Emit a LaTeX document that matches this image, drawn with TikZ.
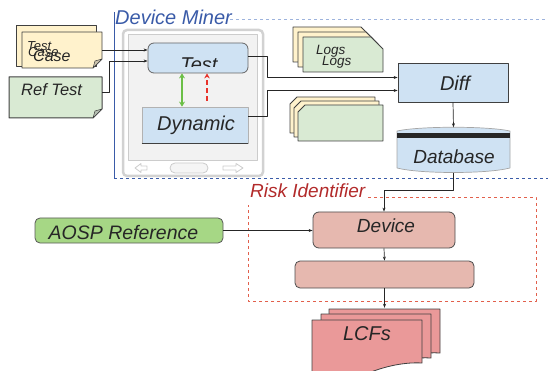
\documentclass[tikz,border=0pt]{standalone}
\usepackage{fontspec}
\setmainfont{Liberation Sans}
\usetikzlibrary{arrows.meta,calc}
\definecolor{lblue}{HTML}{CFE2F3}
\definecolor{pinkb}{HTML}{E6B8AF}
\definecolor{lcfc}{HTML}{EA9999}
\definecolor{gpaper}{HTML}{D9EAD3}
\definecolor{ypaper}{HTML}{FFF2CC}
\definecolor{aospg}{HTML}{A6D785}
\definecolor{dmblue}{HTML}{3A5BA8}
\definecolor{dmlight}{HTML}{9DB3DD}
\definecolor{riskred}{HTML}{B22A2A}
\definecolor{riskline}{HTML}{E2604C}
\definecolor{edge}{HTML}{404040}
\definecolor{arrgreen}{HTML}{6BBF47}
\definecolor{arrred}{HTML}{E8322B}
\newcommand{\fsz}[1]{\fontsize{#1}{#1}\selectfont}
\begin{document}
\begin{tikzpicture}[x=1pt,y=-1pt,line join=round,
  conn/.style={draw=black!85,line width=0.7pt,-{Stealth[length=4pt,width=3pt]}},
  paper/.style={draw=edge,line width=0.8pt},
  box/.style={draw=edge,line width=0.8pt,inner sep=0pt},
  ghost/.style={draw=none,inner sep=0pt},
  lbl/.style={font=\itshape,text=black!85,inner sep=0pt}]
\useasboundingbox (0,0) rectangle (548,371);

% ---------- Device Miner frame ----------
\draw[dmblue,line width=0.8pt] (114,12) -- (114,178);
\draw[dmlight,line width=0.8pt,dashed] (230,19) -- (548,19);
\draw[dmblue,line width=0.8pt,dashed] (114,178) -- (548,178);
\node[lbl,text=dmblue,anchor=base west,font=\itshape\fsz{20}] (dmlabel) at (115,25) {Device Miner};

% ---------- phone ----------
\node[draw=gray!35,line width=2.5pt,fill=white,rounded corners=4pt,
      minimum width=140pt,minimum height=146pt,inner sep=0pt] (phone) at (193,103) {};
\node[draw=gray!40,line width=0.6pt,fill=gray!10,minimum width=129pt,minimum height=126pt,inner sep=0pt]
      (screen) at (192.5,97) {};
\draw[gray!40,fill=white,line width=0.8pt] (147,166)--(141,166)--(141,163.5)--(135,168)--(141,172.5)--(141,170)--(147,170)--cycle;
\draw[gray!40,fill=white,line width=0.8pt] (223,166)--(236,166)--(236,163.5)--(243,168)--(236,172.5)--(236,170)--(223,170)--cycle;
\draw[gray!40,fill=gray!8,line width=0.8pt,rounded corners=5pt] (170,163) rectangle (208,173);

% Test box (text clipped)
\node[box,draw=edge!80,fill=lblue,rounded corners=6pt,minimum width=100pt,minimum height=30pt] (test) at (198,58) {};
\begin{scope}
  \clip (150,45) rectangle (246,67);
  \node[lbl,anchor=base,font=\itshape\fsz{20}] (testlbl) at (199,72) {Test};
\end{scope}

% Dynamic box
\node[box,draw=gray!60,fill=lblue,minimum width=106pt,minimum height=36pt] (dynamic) at (195,125) {};
\draw[edge,line width=0.9pt] (dynamic.south west) -- (dynamic.south east);
\node[lbl,font=\itshape\fsz{20}] (dynlbl) at (196,125.5) {Dynamic};

% green and red arrows
\coordinate (gx) at (182,90);
\coordinate (rstart) at (207,101);
\draw[arrgreen,line width=1.8pt,{Stealth[length=5pt,width=6pt]}-{Stealth[length=5pt,width=6pt]}]
  (gx |- test.south) -- (gx |- dynamic.north);
\draw[arrred,line width=1.3pt,dash pattern=on 5pt off 3pt,-{Stealth[length=5pt,width=5.5pt]}]
  (rstart) -- (rstart |- test.south);

% ---------- Test Case stack ----------
\draw[paper,fill=ypaper] (16,25) rectangle (96,66);
\draw[paper,fill=ypaper] (22,32) -- (102,32) -- (102,59) -- (93,68) -- (22,68) -- cycle;
\draw[paper,fill=ypaper!60!gray,line width=0.5pt] (102,59) -- (95,61) -- (93,68) -- cycle;
\node[ghost,minimum width=80pt,minimum height=36pt] (testcase) at (62,50) {};
\node[lbl,anchor=base west,font=\itshape\fsz{13}] (tc1) at (27,51) {Test};
\node[lbl,anchor=base west,font=\itshape\fsz{13}] (tc2) at (28,57) {Case};
\node[lbl,anchor=base west,font=\itshape\fsz{16}] (tc3) at (33,62) {Case};

% ---------- Ref Test ----------
\draw[paper,fill=gpaper,line width=1pt] (9,77) -- (102,77) -- (102,109) -- (93,118) -- (9,118) -- cycle;
\draw[paper,fill=gpaper!60!gray,line width=0.5pt] (102,109) -- (95,111) -- (93,118) -- cycle;
\node[ghost,minimum width=93pt,minimum height=41pt] (reftest) at (55.5,97.5) {};
\node[lbl,anchor=base west,font=\itshape\fsz{16.5}] (reflbl) at (21,96) {Ref Test};

% connectors into Test
\draw[conn] (testcase.east) -- (testcase.east -| test.west);
\draw[conn] ($(reftest.north east)+(0,16)$) -- ++(7,0) |- ($(test.west)+(0,3)$);

% ---------- Logs stacks ----------
\foreach \dx/\dy/\c in {0/0/ypaper,5/5/ypaper,10/10/gpaper}{
  \draw[paper,fill=\c] ($(293,27)+(\dx,\dy)$) -- ++(68,0) -- ++(12,12) -- ++(0,23) -- ++(-80,0) -- cycle;
}
\node[lbl,anchor=base west,font=\itshape\fsz{13.5}] (logs1) at (316,55) {Logs};
\node[lbl,anchor=base west,font=\itshape\fsz{13.5}] (logs2) at (322,66) {Logs};

\foreach \dx/\dy/\c in {0/0/ypaper,4/4/ypaper,8/8/gpaper}{
  \draw[paper,fill=\c] ($(290,104)+(\dx,\dy)$) -- ++(7,-7) -- ++(78,0) -- ++(0,36) -- ++(-85,0) -- cycle;
}

% ---------- Diff and Database ----------
\node[box,fill=lblue,minimum width=110pt,minimum height=39pt] (diff) at (453,82.5) {};
\node[lbl,font=\itshape\fsz{20}] (difflbl) at (455,83) {Diff};

\draw[conn] ($(test.east)+(0,-2)$) -- ++(19,0) |- ($(diff.west)+(0,-5)$);
\draw[conn] ($(dynamic.east)+(0,-9)$) -- ++(19,0) |- ($(diff.west)+(0,8)$);

\node[ghost,minimum width=113pt,minimum height=45pt] (db) at (453.5,150) {};
\draw[draw=gray!70,line width=0.7pt,fill=lblue] (397,131) -- (397,168)
   .. controls (420,174) and (487,174) .. (510,168) -- (510,131)
   .. controls (487,126) and (420,126) .. (397,131) -- cycle;
\fill[black!85] (397,133.5) rectangle (510,138);
\node[lbl,font=\itshape\fsz{19}] (dblbl) at (454,157) {Database};

\draw[conn] (diff.south) -- (db.north);

% ---------- Risk Identifier ----------
\draw[riskline,line width=0.8pt,dashed] (368,197) -- (536,197) -- (536,301) -- (248,301) -- (248,205);
\node[lbl,text=riskred,anchor=base west,font=\itshape\fsz{19}] (risklabel) at (250,198) {Risk Identifier};

\node[box,fill=aospg,draw=gray!70!black,rounded corners=5pt,minimum width=188pt,minimum height=25pt] (aosp) at (129,230.5) {};
\node[lbl,font=\itshape\fsz{19.5}] (aosplbl) at (123.5,233) {AOSP Reference};

\node[box,fill=pinkb,draw=gray!60!black,rounded corners=6pt,minimum width=142pt,minimum height=36pt] (device) at (384,230) {};
\node[lbl,font=\itshape\fsz{19}] (devlbl) at (386,226) {Device};

\node[box,fill=pinkb,draw=gray!60!black,rounded corners=5pt,minimum width=179pt,minimum height=27pt] (assess) at (384.5,274.5) {};

\draw[conn] (db.south) -- ++(0,18) -| (device.north);
\draw[conn] (aosp.east) -- (aosp.east -| device.west);
\draw[conn] (device.south) -- (assess.north);

% ---------- LCFs ----------
\draw[paper,fill=lcfc] (329,340) -- (329,309) -- (440,309) -- (440,353) .. controls (425,352) and (410,355) .. (395,360);
\draw[paper,fill=lcfc] (321,345) -- (321,314) -- (431,314) -- (431,358) .. controls (416,357) and (401,360) .. (386,365);
\draw[paper,fill=lcfc] (312,374) -- (312,320) -- (422,320) -- (422,363) .. controls (405,362) and (385,366) .. (366,374);
\node[ghost,minimum width=128pt,minimum height=40pt] (lcfs) at (376,328) {};
\node[lbl,font=\itshape\fsz{20}] (lcflbl) at (367,334) {LCFs};

\draw[conn] (assess.south) -- (assess.south |- lcfs.north);
\end{tikzpicture}
\end{document}
